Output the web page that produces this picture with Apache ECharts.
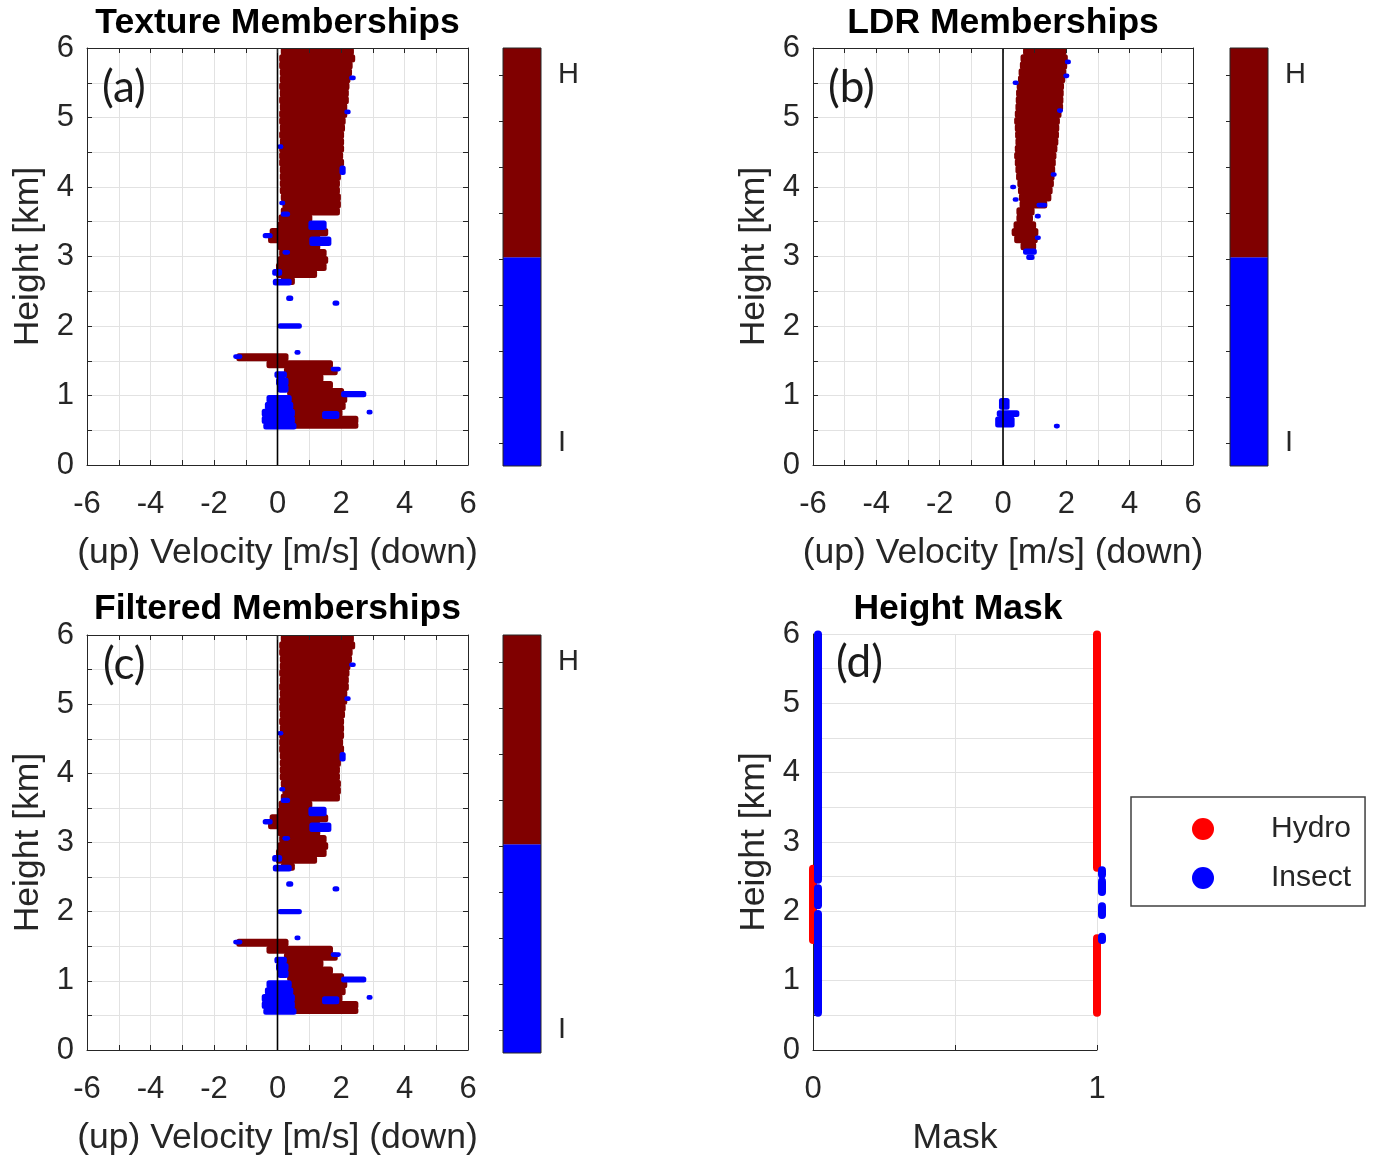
<!DOCTYPE html>
<html><head><meta charset="utf-8">
<script src="https://cdn.jsdelivr.net/npm/echarts@6/dist/echarts.min.js"></script>
<style>html,body{margin:0;padding:0;background:#fff}#c{width:1375px;height:1157px}</style>
</head><body><div id="c"></div>
<script>
// ---------------- DATA ----------------
// spans: [height km (centre), velocity from, velocity to, height thickness km]
const textureHydro = [
  [5.95,0.15,2.36,0.1],[5.85,0.10,2.40,0.1],[5.75,0.10,2.32,0.1],[5.65,0.12,2.30,0.1],
  [5.55,0.12,2.25,0.1],[5.45,0.10,2.22,0.1],[5.35,0.12,2.20,0.1],[5.25,0.10,2.20,0.1],
  [5.15,0.12,2.15,0.1],[5.05,0.10,2.15,0.1],[4.95,0.10,2.10,0.1],[4.85,0.12,2.08,0.1],
  [4.75,0.10,2.05,0.1],[4.65,0.12,2.05,0.1],[4.55,0.10,2.05,0.1],[4.45,0.10,2.02,0.1],
  [4.35,0.10,2.05,0.1],[4.25,0.12,2.00,0.1],[4.15,0.12,1.95,0.1],[4.05,0.12,1.92,0.1],
  [3.95,0.12,1.92,0.1],[3.85,0.15,1.95,0.1],[3.75,0.20,1.95,0.1],[3.65,0.15,1.92,0.1],
  [3.55,0.08,1.05,0.1],[3.45,0.05,1.30,0.1],[3.35,-0.20,1.55,0.1],[3.25,-0.25,1.30,0.1],
  [3.15,0.05,1.30,0.1],[3.05,0.10,1.50,0.1],[2.95,0.05,1.55,0.1],[2.85,0.00,1.50,0.1],
  [2.75,0.00,1.20,0.1],[2.65,0.15,0.50,0.1],
  [1.55,-1.25,0.30,0.1],[1.45,-0.30,1.70,0.1],[1.35,0.25,1.85,0.1],[1.25,0.30,1.40,0.1],
  [1.15,0.30,1.70,0.1],[1.05,0.35,2.05,0.1],[0.95,0.40,2.15,0.1],[0.85,0.45,2.10,0.1],
  [0.75,0.50,2.00,0.1],[0.65,0.50,2.50,0.1],[0.57,0.55,2.50,0.08]
];
const textureInsect = [
  [5.57,2.30,2.42,0.05],[5.08,2.15,2.26,0.05],[4.58,0.04,0.14,0.05],[4.24,2.00,2.10,0.12],
  [3.77,0.10,0.20,0.05],[3.61,0.15,0.35,0.06],[3.45,1.02,1.50,0.12],[3.30,-0.42,-0.20,0.06],
  [3.22,1.05,1.65,0.12],[3.06,0.20,0.35,0.05],[2.77,-0.12,0.10,0.08],[2.63,-0.10,0.40,0.08],
  [2.40,0.32,0.45,0.06],[2.33,1.78,1.90,0.06],[2.00,0.05,0.72,0.06],[1.62,0.58,0.68,0.05],
  [1.56,-1.35,-1.15,0.05],[1.38,1.72,1.95,0.05],[1.30,-0.05,0.25,0.08],[1.20,0.00,0.30,0.1],
  [1.10,0.05,0.30,0.1],[1.02,2.05,2.75,0.07],[0.95,-0.30,0.40,0.1],[0.85,-0.35,0.45,0.1],
  [0.76,2.85,2.95,0.05],[0.75,-0.45,0.50,0.1],[0.72,1.45,1.90,0.1],[0.65,-0.45,0.50,0.1],
  [0.56,-0.40,0.55,0.08]
];
const ldrHydro = [
  [5.95,0.68,1.95,0.1],[5.85,0.60,2.00,0.1],[5.75,0.58,1.98,0.1],[5.65,0.54,1.95,0.1],
  [5.55,0.52,1.92,0.1],[5.45,0.48,1.88,0.1],[5.35,0.46,1.87,0.1],[5.25,0.45,1.86,0.1],
  [5.15,0.44,1.85,0.1],[5.05,0.42,1.80,0.1],[4.95,0.40,1.75,0.1],[4.85,0.42,1.73,0.1],
  [4.75,0.43,1.72,0.1],[4.65,0.44,1.70,0.1],[4.55,0.42,1.67,0.1],[4.45,0.40,1.64,0.1],
  [4.35,0.42,1.62,0.1],[4.25,0.44,1.60,0.1],[4.15,0.46,1.58,0.1],[4.05,0.50,1.56,0.1],
  [3.95,0.52,1.52,0.1],[3.85,0.55,1.48,0.1],[3.75,0.57,1.35,0.1],[3.65,0.47,0.95,0.1],
  [3.55,0.47,0.90,0.1],[3.45,0.38,1.00,0.1],[3.35,0.32,1.07,0.1],[3.25,0.40,1.05,0.1],
  [3.15,0.60,1.00,0.1]
];
const ldrInsect = [
  [5.80,2.00,2.10,0.05],[5.60,1.95,2.05,0.05],[5.50,0.35,0.45,0.05],[5.10,1.75,1.85,0.05],
  [4.18,1.55,1.65,0.05],[4.00,0.27,0.37,0.05],[3.82,0.35,0.45,0.05],[3.74,1.10,1.35,0.05],
  [3.58,1.05,1.15,0.05],[3.27,1.05,1.15,0.05],[3.07,0.68,1.02,0.07],[2.99,0.78,0.95,0.06],
  [0.88,-0.08,0.16,0.15],[0.74,-0.15,0.47,0.08],[0.62,-0.20,0.32,0.14],[0.56,1.65,1.75,0.05]
];
const filteredHydro = textureHydro.slice();
const filteredInsect = textureInsect.slice();
// height mask: [mask value, height from, height to]
const maskHydro = [[0,1.58,2.62],[1,2.62,6.0],[1,0.53,1.62]];
const maskInsect = [[0,2.45,6.0],[0,2.08,2.34],[0,0.53,1.97],
                    [1,2.52,2.60],[1,2.27,2.44],[1,1.94,2.08],[1,1.58,1.64]];
const zeroLine = [[0,0],[0,6]];
const colorbarClasses = ['I','H'];
const colorbarBounds = [-0.5, 4.04, 8.59];
const colorbarTicks = [0,1,2,3,4,5,6,7,8];
const panelTitles = ['Texture Memberships','LDR Memberships','Filtered Memberships','Height Mask'];
const panelTags = ['(a)','(b)','(c)','(d)'];

// ---------------- STYLE / LAYOUT ----------------
const FONT = 'Liberation Sans, Arial, Helvetica, sans-serif';
const INK = '#262626';
const DARKRED = '#800000', BLUE = '#0000ff', RED = '#ff0000';
const grids = [
  {left:87, top:48, width:381, height:417},
  {left:813, top:48, width:380, height:417},
  {left:87, top:635, width:381, height:418},
  {left:813, top:634, width:284, height:419},
  {left:503, top:48, width:38, height:418, show:true, borderColor:INK, borderWidth:1, z:10},
  {left:1230, top:48, width:38, height:418, show:true, borderColor:INK, borderWidth:1, z:10},
  {left:503, top:635, width:38, height:418, show:true, borderColor:INK, borderWidth:1, z:10}
];
const xAxis = [], yAxis = [], series = [];
const lineSt = {color:INK, width:1};
const gridSt = {color:'#e2e2e2', width:1};
const TICK = 31, NAME = 35.5;

function boxPanel(gi, hyd, ins) {
  const xi = xAxis.length, yi = yAxis.length;
  xAxis.push({gridIndex:gi, type:'value', min:-6, max:6, interval:1, position:'bottom',
    axisLine:{onZero:false, lineStyle:lineSt}, axisTick:{inside:true, length:5, lineStyle:lineSt},
    axisLabel:{fontSize:TICK, fontFamily:FONT, color:INK, margin:24,
      formatter:v => (Math.abs(v % 2) < 1e-9 ? String(v) : '')},
    splitLine:{show:true, lineStyle:gridSt},
    name:'(up) Velocity [m/s] (down)', nameLocation:'middle', nameGap:70,
    nameTextStyle:{fontSize:NAME, fontFamily:FONT, color:INK}});
  xAxis.push({gridIndex:gi, type:'value', min:-6, max:6, interval:1, position:'top', z:5,
    axisLine:{onZero:false, lineStyle:lineSt}, axisTick:{inside:true, length:5, lineStyle:lineSt},
    axisLabel:{show:false}, splitLine:{show:false}});
  yAxis.push({gridIndex:gi, type:'value', min:0, max:6, interval:0.5, position:'left',
    axisLine:{onZero:false, lineStyle:lineSt}, axisTick:{inside:true, length:5, lineStyle:lineSt},
    axisLabel:{fontSize:TICK, fontFamily:FONT, color:INK, margin:13,
      formatter:v => (Math.abs(v % 1) < 1e-9 ? String(v) : '')},
    splitLine:{show:true, lineStyle:gridSt},
    name:'Height [km]', nameLocation:'middle', nameGap:41,
    nameTextStyle:{fontSize:NAME, fontFamily:FONT, color:INK}});
  yAxis.push({gridIndex:gi, type:'value', min:0, max:6, interval:0.5, position:'right', z:5,
    axisLine:{onZero:false, lineStyle:lineSt}, axisTick:{inside:true, length:5, lineStyle:lineSt},
    axisLabel:{show:false}, splitLine:{show:false}});
  const spanRender = color => (params, api) => {
    const h = api.value(0), v0 = api.value(1), v1 = api.value(2), dh = api.value(3);
    const p0 = api.coord([v0, h + dh/2]), p1 = api.coord([v1, h - dh/2]);
    return {type:'rect', shape:{x:p0[0]-1.5, y:p0[1]-0.6, width:Math.max(4, p1[0]-p0[0]+3),
      height:p1[1]-p0[1]+1.2, r:2.5}, style:{fill:color}};
  };
  series.push({type:'custom', name:'hydro'+gi, xAxisIndex:xi, yAxisIndex:yi, clip:true,
    encode:{x:[1,2], y:0}, data:hyd, renderItem:spanRender(DARKRED), silent:true});
  series.push({type:'custom', name:'insect'+gi, xAxisIndex:xi, yAxisIndex:yi, clip:true,
    encode:{x:[1,2], y:0}, data:ins, renderItem:spanRender(BLUE), silent:true});
  series.push({type:'line', name:'zero'+gi, xAxisIndex:xi, yAxisIndex:yi, data:zeroLine,
    symbol:'none', lineStyle:{color:'#000', width:1.6}, silent:true, z:4});
}
boxPanel(0, textureHydro, textureInsect);
boxPanel(1, ldrHydro, ldrInsect);
boxPanel(2, filteredHydro, filteredInsect);

// panel (d)
{
  const xi = xAxis.length, yi = yAxis.length;
  xAxis.push({gridIndex:3, type:'value', min:0, max:1, interval:0.5, position:'bottom',
    axisLine:{onZero:false, lineStyle:lineSt}, axisTick:{inside:true, length:5, lineStyle:lineSt},
    axisLabel:{fontSize:TICK, fontFamily:FONT, color:INK, margin:24,
      formatter:v => (Math.abs(v % 1) < 1e-9 ? String(v) : '')},
    splitLine:{show:true, lineStyle:gridSt},
    name:'Mask', nameLocation:'middle', nameGap:70,
    nameTextStyle:{fontSize:NAME, fontFamily:FONT, color:INK}});
  yAxis.push({gridIndex:3, type:'value', min:0, max:6, interval:0.5, position:'left',
    axisLine:{onZero:false, lineStyle:lineSt}, axisTick:{inside:true, length:5, lineStyle:lineSt},
    axisLabel:{fontSize:TICK, fontFamily:FONT, color:INK, margin:13,
      formatter:v => (Math.abs(v % 1) < 1e-9 ? String(v) : '')},
    splitLine:{show:true, lineStyle:gridSt},
    name:'Height [km]', nameLocation:'middle', nameGap:41,
    nameTextStyle:{fontSize:NAME, fontFamily:FONT, color:INK}});
  const capsule = (color, shift) => (params, api) => {
    const m = api.value(0), h0 = api.value(1), h1 = api.value(2);
    const pt = api.coord([m, h1]), pb = api.coord([m, h0]);
    return {type:'rect', shape:{x:pt[0]-4+shift, y:pt[1]-3.5, width:8, height:pb[1]-pt[1]+7, r:4},
      style:{fill:color}};
  };
  series.push({type:'custom', name:'Hydro', xAxisIndex:xi, yAxisIndex:yi, clip:false,
    itemStyle:{color:RED}, encode:{x:0, y:[1,2]}, data:maskHydro, renderItem:capsule(RED, 0)});
  series.push({type:'custom', name:'Insect', xAxisIndex:xi, yAxisIndex:yi, clip:false,
    itemStyle:{color:BLUE}, encode:{x:0, y:[1,2]}, data:maskInsect, renderItem:capsule(BLUE, 5)});
}

// colorbars
[4,5,6].forEach(gi => {
  const xi = xAxis.length, yi = yAxis.length;
  xAxis.push({gridIndex:gi, type:'value', min:0, max:1, show:false});
  yAxis.push({gridIndex:gi, type:'value', min:colorbarBounds[0], max:colorbarBounds[2], position:'right', z:11,
    axisLine:{show:false}, splitLine:{show:false},
    axisTick:{inside:true, length:4, lineStyle:lineSt, customValues:colorbarTicks},
    axisLabel:{fontSize:29, fontFamily:FONT, color:INK, margin:17,
      customValues:[colorbarTicks[0], colorbarTicks[colorbarTicks.length-1]],
      formatter:v => (v < 4 ? colorbarClasses[0] : colorbarClasses[1])}});
  const cbData = colorbarClasses.map((c, i) => [i, colorbarBounds[i], colorbarBounds[i+1]]);
  series.push({type:'custom', name:'cb'+gi, xAxisIndex:xi, yAxisIndex:yi, silent:true,
    encode:{y:[1,2]}, data:cbData,
    renderItem:(params, api) => {
      const i = api.value(0);
      const pt = api.coord([0, api.value(2)]), pb = api.coord([1, api.value(1)]);
      return {type:'rect', shape:{x:pt[0], y:pt[1], width:pb[0]-pt[0], height:pb[1]-pt[1]},
        style:{fill: i === 0 ? BLUE : DARKRED}};
    }});
});

// titles & tags as text
const titlePos = [[277.5,23],[1003,23],[277.5,609],[958,609]];
const tagPos = [[102,88],[828,88],[103,665],[836,663]];
const graphic = [];
panelTitles.forEach((t, i) => graphic.push({type:'text', x:titlePos[i][0], y:titlePos[i][1], z:20,
  style:{text:t, align:'center', verticalAlign:'middle', font:'bold 35.5px ' + FONT, fill:'#000'}}));
panelTags.forEach((t, i) => graphic.push({type:'text', x:tagPos[i][0], y:tagPos[i][1], z:20,
  style:{text:t, align:'left', verticalAlign:'middle', font:'44px Lato, Open Sans, sans-serif', fill:'#1a1a1a'}}));

const chart = echarts.init(document.getElementById('c'), null, {renderer:'canvas'});
chart.setOption({
  animation:false, backgroundColor:'#fff',
  grid:grids, xAxis, yAxis, series, graphic,
  legend:{data:['Hydro','Insect'], orient:'vertical', left:1131, top:797,
    padding:[17,14,13,61], itemWidth:22, itemHeight:22, itemGap:19, icon:'circle',
    borderColor:'#404040', borderWidth:1.5, selectedMode:false,
    textStyle:{fontSize:30, fontFamily:FONT, color:INK, lineHeight:22, padding:[0,0,0,52]}}
});
</script></body></html>
